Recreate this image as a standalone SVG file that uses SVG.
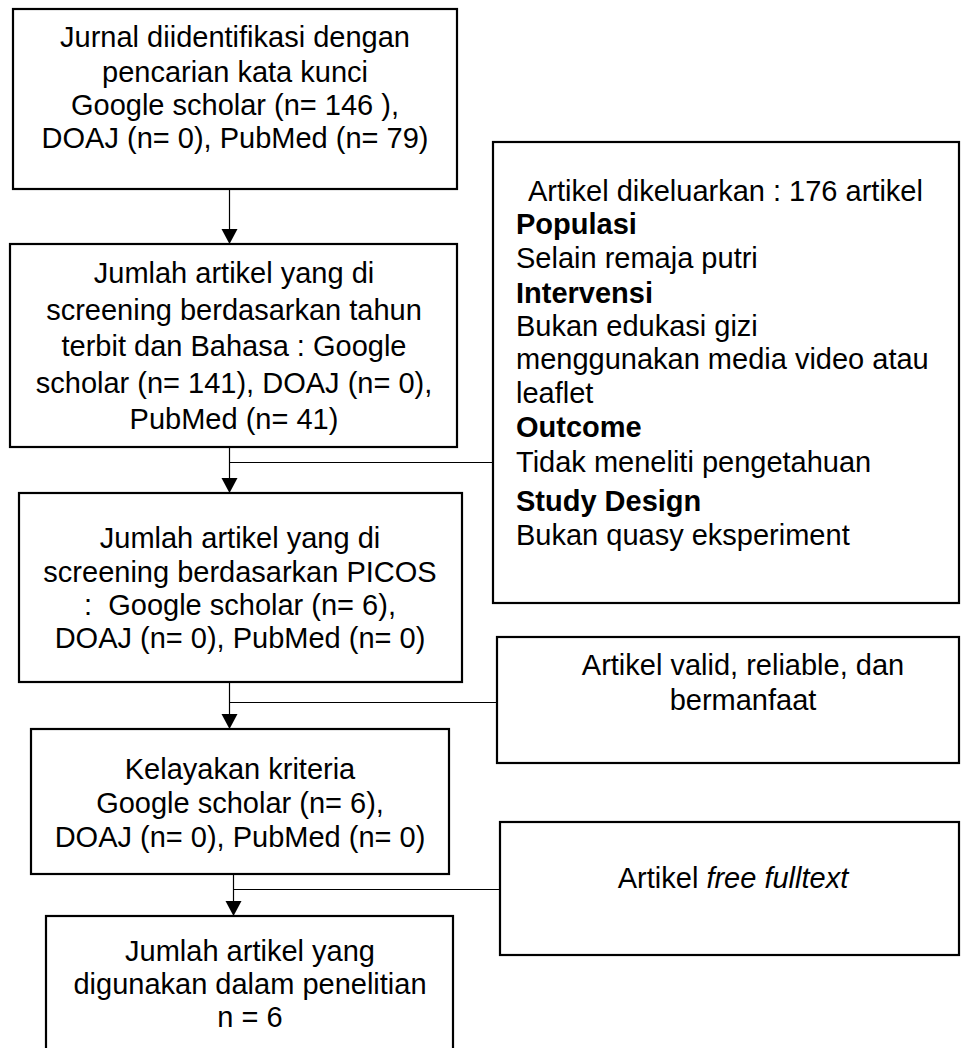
<svg xmlns="http://www.w3.org/2000/svg" width="961" height="1048" viewBox="0 0 961 1048">
<defs>
<style>
.box{fill:#fff;stroke:#000;stroke-width:2.2}
.ln{fill:none;stroke:#000;stroke-width:1.2}
.ah{fill:#000}
text{font-family:"Liberation Sans",Arial,sans-serif;font-size:29px;fill:#000}
.c{text-anchor:middle}
.b{font-weight:bold}
</style>
</defs>
<rect width="961" height="1048" fill="#fff"/>
<g id="connectors">
<path class="ln" d="M229.5,189 V230"/>
<path class="ln" d="M229.5,447 V480"/>
<path class="ln" d="M230,462.5 H493"/>
<path class="ln" d="M229.5,682 V716"/>
<path class="ln" d="M230,702.5 H497"/>
<path class="ln" d="M233.5,874 V903"/>
<path class="ln" d="M233,889.5 H500"/>
<path class="ah" d="M221.5,229 L237.5,229 L229.5,244 Z"/>
<path class="ah" d="M221.5,478 L237.5,478 L229.5,493 Z"/>
<path class="ah" d="M221.5,714 L237.5,714 L229.5,729 Z"/>
<path class="ah" d="M225.5,901 L241.5,901 L233.5,916 Z"/>
</g>
<g id="n1">
<rect class="box" x="13" y="9" width="444" height="180"/>
<text class="c" x="235" y="47">Jurnal diidentifikasi dengan</text>
<text class="c" x="235" y="82">pencarian kata kunci</text>
<text class="c" x="235" y="115">Google scholar (n= 146 ),</text>
<text class="c" x="235" y="148">DOAJ (n= 0), PubMed (n= 79)</text>
</g>
<g id="n2">
<rect class="box" x="10" y="244" width="447" height="203"/>
<text class="c" x="234" y="283">Jumlah artikel yang di</text>
<text class="c" x="234" y="320">screening berdasarkan tahun</text>
<text class="c" x="234" y="356">terbit dan Bahasa : Google</text>
<text class="c" x="234" y="393">scholar (n= 141), DOAJ (n= 0),</text>
<text class="c" x="234" y="429">PubMed (n= 41)</text>
</g>
<g id="n3">
<rect class="box" x="19" y="493" width="443" height="189"/>
<text class="c" x="240" y="548">Jumlah artikel yang di</text>
<text class="c" x="240" y="582">screening berdasarkan PICOS</text>
<text class="c" x="240" y="615" xml:space="preserve">:  Google scholar (n= 6),</text>
<text class="c" x="240" y="648">DOAJ (n= 0), PubMed (n= 0)</text>
</g>
<g id="n4">
<rect class="box" x="31" y="729" width="418" height="145"/>
<text class="c" x="240" y="779">Kelayakan kriteria</text>
<text class="c" x="240" y="813">Google scholar (n= 6),</text>
<text class="c" x="240" y="847">DOAJ (n= 0), PubMed (n= 0)</text>
</g>
<g id="n5">
<rect class="box" x="46" y="916" width="407" height="150"/>
<text class="c" x="250" y="961">Jumlah artikel yang</text>
<text class="c" x="250" y="994">digunakan dalam penelitian</text>
<text class="c" x="250" y="1027">n = 6</text>
</g>
<g id="r1">
<rect class="box" x="493" y="142" width="466" height="461"/>
<text x="528" y="201">Artikel dikeluarkan : 176 artikel</text>
<text class="b" x="516" y="234">Populasi</text>
<text x="516" y="268">Selain remaja putri</text>
<text class="b" x="516" y="303">Intervensi</text>
<text x="516" y="336">Bukan edukasi gizi</text>
<text x="516" y="369">menggunakan media video atau</text>
<text x="516" y="403">leaflet</text>
<text class="b" x="516" y="437">Outcome</text>
<text x="516" y="472">Tidak meneliti pengetahuan</text>
<text class="b" x="516" y="511">Study Design</text>
<text x="516" y="545">Bukan quasy eksperiment</text>
</g>
<g id="r2">
<rect class="box" x="497" y="637" width="462" height="126"/>
<text class="c" x="743" y="675">Artikel valid, reliable, dan</text>
<text class="c" x="743" y="710">bermanfaat</text>
</g>
<g id="r3">
<rect class="box" x="500" y="822" width="459" height="133"/>
<text class="c" x="733" y="888">Artikel <tspan font-style="italic">free fulltext</tspan></text>
</g>
</svg>
